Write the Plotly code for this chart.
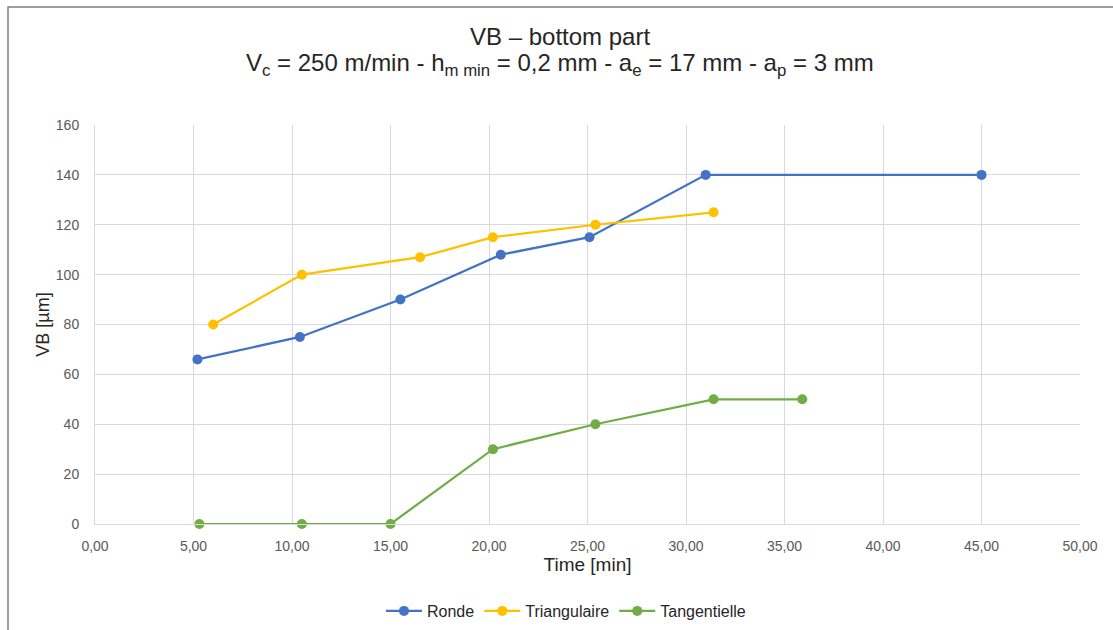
import plotly.graph_objects as go

ronde_x = [5.2, 10.4, 15.5, 20.6, 25.1, 31.0, 45.0]
ronde_y = [66, 75, 90, 108, 115, 140, 140]
tri_x = [6.0, 10.5, 16.5, 20.2, 25.4, 31.4]
tri_y = [80, 100, 107, 115, 120, 125]
tan_x = [5.3, 10.5, 15.0, 20.2, 25.4, 31.4, 35.9]
tan_y = [0, 0, 0, 30, 40, 50, 50]

W, H = 1113, 630
L, R, T, B = 95, 1080, 125, 524

fig = go.Figure()
for name, xs, ys, col in [
    ("Ronde", ronde_x, ronde_y, "#4472C4"),
    ("Triangulaire", tri_x, tri_y, "#FFC000"),
    ("Tangentielle", tan_x, tan_y, "#70AD47"),
]:
    fig.add_trace(go.Scatter(x=xs, y=ys, name=name, mode="lines+markers",
                             line=dict(color=col, width=2.25),
                             marker=dict(color=col, size=10), cliponaxis=False))

def px2paper_x(p):
    return (p - L) / (R - L)

def px2paper_y(p):
    return (B - p) / (B - T)

fig.update_layout(
    width=W, height=H,
    margin=dict(l=L, r=W - R, t=T, b=H - B, autoexpand=False),
    paper_bgcolor="white", plot_bgcolor="white",
    separators=", ",
    font=dict(family="Liberation Sans, Arial, sans-serif", color="#595959", size=14),
    xaxis=dict(range=[0, 50], dtick=5, tick0=0, tickformat=".2f",
               showgrid=True, gridcolor="#D9D9D9", gridwidth=1,
               showline=True, linecolor="#D9D9D9", mirror=False,
               zeroline=False, ticks="", fixedrange=True, automargin=False,
               ticklabelstandoff=9,
               title=dict(text="Time [min]", font=dict(size=19, color="#262626"), standoff=4),
               tickfont=dict(size=14, color="#595959")),
    yaxis=dict(range=[0, 160], dtick=20, tick0=0,
               showgrid=True, gridcolor="#D9D9D9", gridwidth=1,
               showline=True, linecolor="#D9D9D9",
               zeroline=False, ticks="", fixedrange=True, automargin=False,
               ticklabelstandoff=12,
               title=dict(text="VB [µm]", font=dict(size=18, color="#262626"), standoff=1),
               tickfont=dict(size=14, color="#595959")),
    legend=dict(orientation="h", x=px2paper_x(566), xanchor="center",
                y=px2paper_y(611), yanchor="middle",
                font=dict(size=16, color="#262626"), itemwidth=36,
                traceorder="normal"),
    annotations=[
        dict(text="VB – bottom part", xref="paper", yref="paper",
             x=px2paper_x(560), y=px2paper_y(36), xanchor="center", yanchor="middle",
             showarrow=False, font=dict(size=24, color="#262626")),
        dict(text="V<sub>c</sub> = 250 m/min - h<sub>m min</sub> = 0,2 mm - a<sub>e</sub> = 17 mm - a<sub>p</sub> = 3 mm",
             xref="paper", yref="paper",
             x=px2paper_x(560), y=px2paper_y(64), xanchor="center", yanchor="middle",
             showarrow=False, font=dict(size=24, color="#262626")),
    ],
    shapes=[dict(type="rect", xref="paper", yref="paper",
                 x0=px2paper_x(8), x1=px2paper_x(1130),
                 y0=px2paper_y(645), y1=px2paper_y(7),
                 line=dict(color="#7F7F7F", width=1.5), layer="below")],
)

fig.write_html("out.html", config={"displayModeBar": False},
               post_script="document.body.style.margin='0';")
